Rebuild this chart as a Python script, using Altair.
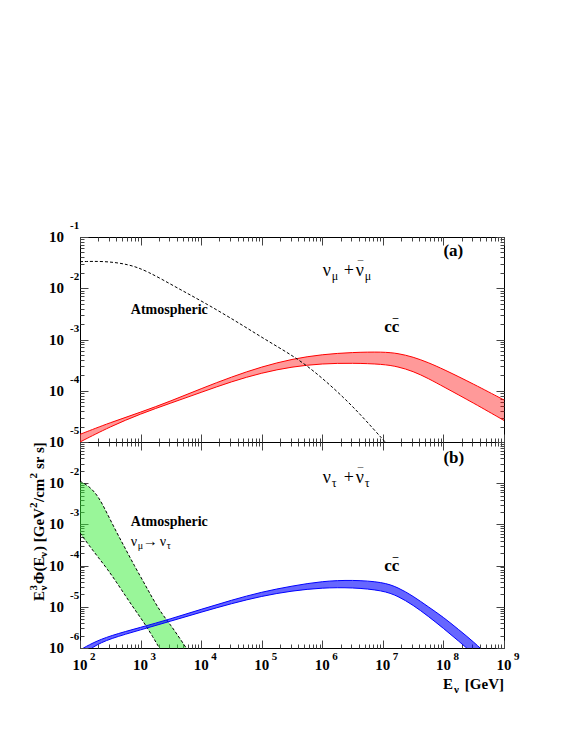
import altair as alt
import pandas as pd

FONT = "Liberation Serif"
W, H_A, H_B = 424, 205, 206
E_DOM = [1e2, 1e9]
FA_DOM = [1e-5, 1e-1]
FB_DOM = [1e-6, 1e-1]

# ---------------- tick values / labels ----------------
x_major = [1e2, 1e3, 1e4, 1e5, 1e6, 1e7, 1e8, 1e9]
x_exps = ["2", "3", "4", "5", "6", "7", "8", "9"]
x_minor = [k * 10.0 ** d for d in range(2, 9) for k in range(2, 10)]
ya_major = [1e-1, 1e-2, 1e-3, 1e-4, 1e-5]
ya_exps = ["-1", "-2", "-3", "-4", "-5"]
yb_major = [1e-1, 1e-2, 1e-3, 1e-4, 1e-5, 1e-6]
yb_lab = [1e-2, 1e-3, 1e-4, 1e-5, 1e-6]
yb_exps = ["-2", "-3", "-4", "-5", "-6"]
ya_minor = [k * 10.0 ** d for d in range(-5, -1) for k in range(2, 10)]
yb_minor = [k * 10.0 ** d for d in range(-6, -1) for k in range(2, 10)]

# ---------------- panel (a): nu_mu ----------------
red_E = [1e2, 3.16e2, 1e3, 3.16e3, 1e4, 3.16e4, 1e5, 3.16e5, 1e6, 3.16e6, 1e7,
         1.78e7, 3.16e7, 5.62e7, 1e8, 3.16e8, 1e9]
red_hi = [1.41e-5, 2.4e-5, 3.8e-5, 6.3e-5, 1.1e-4, 1.86e-4, 2.95e-4, 4.17e-4,
          5.13e-4, 5.62e-4, 5.75e-4, 5.37e-4, 4.57e-4, 3.55e-4, 2.63e-4, 1.35e-4, 6.6e-5]
red_lo = [1.0e-5, 2.0e-5, 3.55e-5, 5.75e-5, 9.3e-5, 1.51e-4, 2.24e-4, 2.95e-4,
          3.39e-4, 3.47e-4, 3.31e-4, 2.95e-4, 2.4e-4, 1.74e-4, 1.2e-4, 5.75e-5, 2.63e-5]

atm_E = [1e2, 2.5e2, 6.3e2, 1.26e3, 4e3, 1.26e4, 4.5e4, 1.26e5, 4e5, 1e6,
         2.5e6, 5e6, 1e7, 1.26e7]
atm_F = [3.3e-2, 3.4e-2, 2.95e-2, 2.2e-2, 1.02e-2, 4.9e-3, 2.0e-3, 9.3e-4,
         4.2e-4, 1.78e-4, 6.6e-5, 2.8e-5, 1.12e-5, 8.3e-6]

# ---------------- panel (b): nu_tau ----------------
blue_E = [1e2, 1.58e2, 3.16e2, 1e3, 3.16e3, 1e4, 3.16e4, 1e5, 3.16e5, 1e6,
          3.16e6, 1e7, 1.78e7, 3.16e7, 5.62e7, 1e8, 1.78e8, 3.16e8, 5.62e8]
blue_hi = [8.9e-7, 1.32e-6, 2.0e-6, 3.16e-6, 5.1e-6, 8.7e-6, 1.45e-5, 2.3e-5,
           3.2e-5, 4.2e-5, 4.5e-5, 4.0e-5, 2.95e-5, 1.82e-5, 1.0e-5, 5.6e-6,
           2.8e-6, 1.41e-6, 6.3e-7]
blue_lo = [5.6e-7, 1.07e-6, 1.7e-6, 2.75e-6, 4.5e-6, 7.4e-6, 1.2e-5, 1.82e-5,
           2.45e-5, 2.9e-5, 2.95e-5, 2.5e-5, 1.82e-5, 1.1e-5, 5.9e-6, 3.0e-6,
           1.48e-6, 7.1e-7, 3.2e-7]

osc_E = [100, 141, 200, 282, 398, 562, 794, 1122, 1585, 2239, 3162, 4467, 6310]
osc_hi = [1.12e-2, 8.5e-3, 4.9e-3, 1.82e-3, 6.6e-4, 2.57e-4, 9.8e-5, 4.0e-5,
          1.58e-5, 6.8e-6, 3.55e-6, 1.7e-6, 7.9e-7]
osc_lo = [6.2e-4, 3.1e-4, 1.58e-4, 8.3e-5, 4.0e-5, 1.86e-5, 8.7e-6, 4.3e-6,
          1.9e-6, 7.9e-7, 3.2e-7, 1.26e-7, 5e-8]

INTERP = "basis"
xs = alt.Scale(type="log", domain=E_DOM)


def ys(dom):
    return alt.Scale(type="log", domain=dom)


def frame_axes(ydom, H, ymaj, ymin):
    df = pd.DataFrame({"E": E_DOM, "F": ydom})
    com = dict(labels=False, domain=False, grid=False, title=None,
               tickColor="#444", tickWidth=1)
    xa = [
        alt.Axis(orient="top", offset=-H, values=x_major, tickSize=8, **com),
        alt.Axis(orient="top", offset=-H, values=x_minor, tickSize=4, **com),
        alt.Axis(orient="bottom", offset=-H, values=x_major, tickSize=8, **com),
        alt.Axis(orient="bottom", offset=-H, values=x_minor, tickSize=4, **com),
    ]
    ya = [
        alt.Axis(orient="right", offset=-W, values=ymaj, tickSize=8, **com),
        alt.Axis(orient="right", offset=-W, values=ymin, tickSize=4, **com),
        alt.Axis(orient="left", offset=-W, values=ymaj, tickSize=8, **com),
        alt.Axis(orient="left", offset=-W, values=ymin, tickSize=4, **com),
    ]
    out = []
    for a, b in zip(xa, ya):
        out.append(alt.Chart(df).mark_point(opacity=0).encode(
            x=alt.X("E:Q", scale=xs, axis=a),
            y=alt.Y("F:Q", scale=ys(ydom), axis=b)))
    return out


def band(E, hi, lo, ydom, fill, op, line_color, dash=None):
    df = pd.DataFrame({"E": E, "hi": hi, "lo": lo})
    base = alt.Chart(df)
    x = alt.X("E:Q", scale=xs, axis=None)
    area = base.mark_area(color=fill, opacity=op, clip=True, interpolate=INTERP).encode(
        x=x, y=alt.Y("hi:Q", scale=ys(ydom), axis=None), y2="lo:Q")
    lk = dict(color=line_color, strokeWidth=1, clip=True, interpolate=INTERP)
    if dash:
        lk["strokeDash"] = dash
    l1 = base.mark_line(**lk).encode(x=x, y=alt.Y("hi:Q", scale=ys(ydom), axis=None))
    l2 = base.mark_line(**lk).encode(x=x, y=alt.Y("lo:Q", scale=ys(ydom), axis=None))
    return [area, l1, l2]


def pieces(items, xv, yv, ydom, data=True, bold=True, align="left", angle=0):
    out = []
    for text, size, dx, dy in items:
        if data:
            df = pd.DataFrame({"x": [xv], "y": [yv], "t": [text]})
            xe = alt.X("x:Q", scale=xs, axis=None)
            ye = alt.Y("y:Q", scale=ys(ydom), axis=None)
        else:
            df = pd.DataFrame({"t": [text]})
            xe = alt.value(xv)
            ye = alt.value(yv)
        out.append(alt.Chart(df).mark_text(
            font=FONT, fontSize=size, fontWeight="bold" if bold else "normal",
            align=align, baseline="alphabetic", dx=dx, dy=dy, angle=angle,
            color="black").encode(x=xe, y=ye, text="t:N"))
    return out


def ylabels(ticks, exps, ydom):
    df = pd.DataFrame({"F": ticks, "e": exps})
    base = alt.Chart(df).encode(y=alt.Y("F:Q", scale=ys(ydom), axis=None))
    t10 = base.mark_text(font=FONT, fontWeight="bold", fontSize=15, align="right",
                         baseline="middle", color="black").encode(
        x=alt.value(-16), text=alt.value("10"))
    te = base.mark_text(font=FONT, fontWeight="bold", fontSize=11, align="left",
                        baseline="middle", dy=-11, color="black").encode(
        x=alt.value(-10), text="e:N")
    return [t10, te]


def xlabels(H):
    df = pd.DataFrame({"E": x_major, "e": x_exps})
    base = alt.Chart(df).encode(x=alt.X("E:Q", scale=xs, axis=None))
    t10 = base.mark_text(font=FONT, fontWeight="bold", fontSize=15, align="center",
                         baseline="middle", color="black").encode(
        y=alt.value(H + 17), text=alt.value("10"))
    te = base.mark_text(font=FONT, fontWeight="bold", fontSize=11, align="left",
                        baseline="middle", dx=10, color="black").encode(
        y=alt.value(H + 9), text="e:N")
    return [t10, te]


# ---------------- top panel ----------------
atm_df = pd.DataFrame({"E": atm_E, "F": atm_F})
atm_line = alt.Chart(atm_df).mark_line(color="black", strokeWidth=1, strokeDash=[3, 2],
                                       clip=True, interpolate=INTERP).encode(
    x=alt.X("E:Q", scale=xs, axis=None), y=alt.Y("F:Q", scale=ys(FA_DOM), axis=None))

top_layers = (
    band(red_E, red_hi, red_lo, FA_DOM, "#ff0000", 0.4, "#ff0000")
    + [atm_line]
    + frame_axes(FA_DOM, H_A, ya_major, ya_minor)
    + ylabels(ya_major, ya_exps, FA_DOM)
    + pieces([("(a)", 17, 0, 0)], 1.0e8, 4.3e-2, FA_DOM)
    + pieces([("ν", 18, 0, 0), ("μ", 12, 9, 4), ("+", 18, 21, 0), ("ν", 18, 33, 0),
              ("¯", 11, 35, -8), ("μ", 12, 42, 4)], 1.02e6, 1.74e-2, FA_DOM, bold=False)
    + pieces([("cc", 17, 0, 0), ("¯", 11, 8.5, -6)], 1.05e7, 1.41e-3, FA_DOM)
    + pieces([("Atmospheric", 14, 0, 0)], 6.9e2, 3.16e-3, FA_DOM)
)
top = alt.layer(*top_layers).resolve_axis(x="independent", y="independent").properties(
    width=W, height=H_A)

# ---------------- bottom panel ----------------
bottom_layers = (
    band(osc_E, osc_hi, osc_lo, FB_DOM, "#33ee33", 0.5, "black", dash=[3, 2])
    + band(blue_E, blue_hi, blue_lo, FB_DOM, "#0000ff", 0.6, "#0000ff")
    + frame_axes(FB_DOM, H_B, yb_major, yb_minor)
    + ylabels(yb_lab, yb_exps, FB_DOM)
    + xlabels(H_B)
    + pieces([("(b)", 17, 0, 0)], 1.0e8, 3.1e-2, FB_DOM)
    + pieces([("ν", 18, 0, 0), ("τ", 12, 9, 4), ("+", 18, 21, 0), ("ν", 18, 33, 0),
              ("¯", 11, 35, -8), ("τ", 12, 42, 4)], 1.02e6, 1.0e-2, FB_DOM, bold=False)
    + pieces([("cc", 17, 0, 0), ("¯", 11, 8.5, -6)], 1.05e7, 7.4e-5, FB_DOM)
    + pieces([("Atmospheric", 14, 0, 0)], 6.9e2, 9.1e-4, FB_DOM)
    + pieces([("ν", 14, 0, 0), ("μ", 10, 7, 3), ("→", 15, 12, 0), ("ν", 14, 29, 0),
              ("τ", 10, 36, 3)], 6.9e2, 3.0e-4, FB_DOM, bold=False)
    # x-axis title
    + pieces([("[GeV]", 15, 0, 0), ("ν", 11, -45, 4), ("E", 15, -51, 0)],
             W, H_B + 41, FB_DOM, data=False, align="right")
    # y-axis title (rotated)
    + pieces([("E", 15, 0, 0), ("3", 11, 10.5, -7), ("ν", 11, 10.5, 3),
              ("Φ(E", 15, 17, 0), ("ν", 11, 44, 3), (") [GeV", 15, 50, 0),
              ("2", 11, 93, -7), ("/cm", 15, 99, 0), ("2", 11, 122.5, -7),
              ("sr s]", 15, 132, 0)],
             -36, 159, FB_DOM, data=False, angle=270)
)
bottom = alt.layer(*bottom_layers).resolve_axis(x="independent", y="independent").properties(
    width=W, height=H_B)

chart = alt.vconcat(top, bottom, spacing=0, bounds="flush").properties(
    padding={"left": 19, "top": 211, "right": 5, "bottom": 5}
).configure_view(stroke="black", strokeWidth=1)

chart.save("out.html", embed_options={"renderer": "svg", "actions": False})
